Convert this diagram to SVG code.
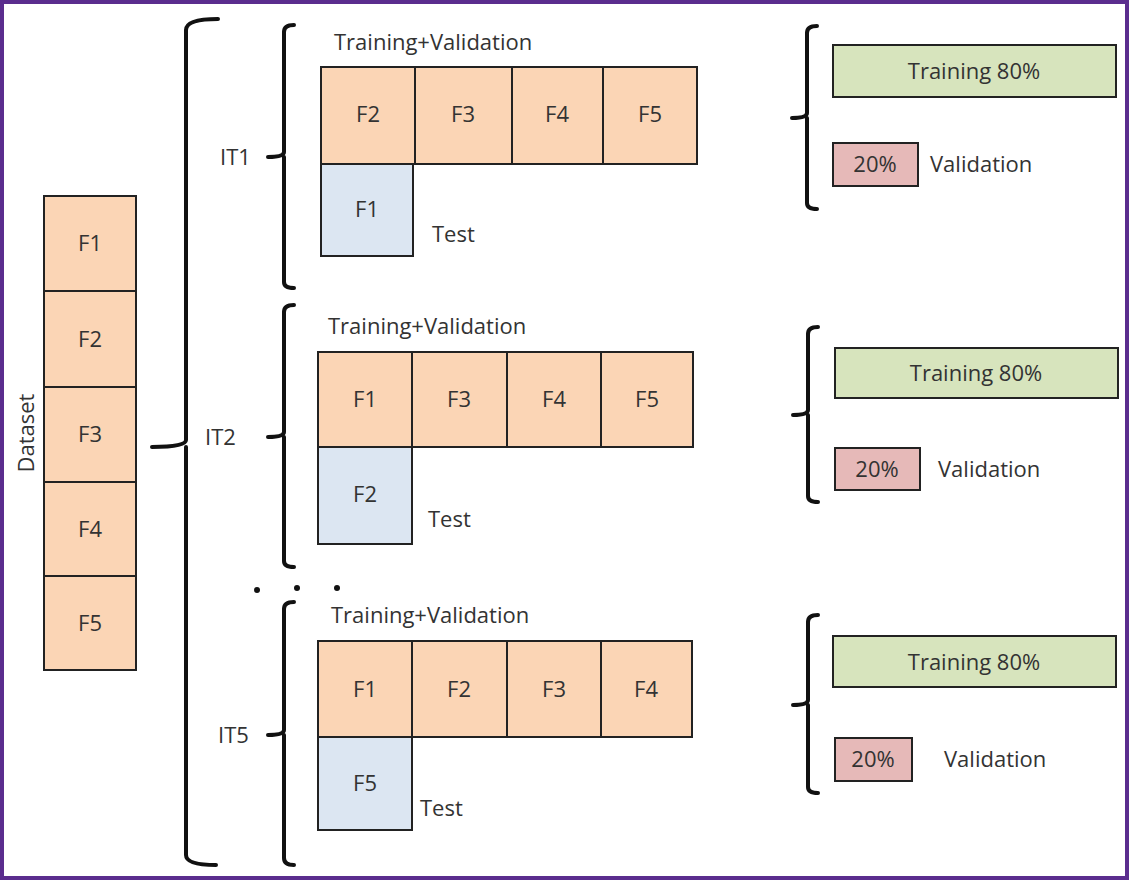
<svg xmlns="http://www.w3.org/2000/svg" width="1129" height="880" viewBox="0 0 1129 880">
<style>
text{font-family:"Open Sans","Liberation Sans",sans-serif;font-size:22px;fill:#333}
.c{text-anchor:middle}
.o{fill:#fbd5b5;stroke:#222;stroke-width:2}
.b{fill:#dce6f2;stroke:#222;stroke-width:2}
.g{fill:#d7e4bd;stroke:#222;stroke-width:2}
.p{fill:#e6b9b8;stroke:#222;stroke-width:2}
.br{fill:none;stroke:#111;stroke-width:4;stroke-linecap:round}
</style>
<rect x="2" y="2" width="1125" height="876" fill="#fff" stroke="#5b2d8e" stroke-width="4"/>
<g id="dataset">
<rect class="o" x="44" y="196" width="92" height="95"/><text class="c" x="90" y="251">F1</text>
<rect class="o" x="44" y="291" width="92" height="96"/><text class="c" x="90" y="347">F2</text>
<rect class="o" x="44" y="387" width="92" height="95"/><text class="c" x="90" y="442">F3</text>
<rect class="o" x="44" y="482" width="92" height="94"/><text class="c" x="90" y="537">F4</text>
<rect class="o" x="44" y="576" width="92" height="94"/><text class="c" x="90" y="631">F5</text>
<text class="c" transform="translate(34,433) rotate(-90)">Dataset</text>
</g>
<g id="connectors">
<path class="br" d="M218,19 Q186,19 186,30 V440 Q186,447 152,447 M186,447 V855 Q186,865 216,865"/>
<path class="br" d="M294,25 Q284,25 284,32 V152 Q284,157 268,157 M284,157 V282 Q284,288 294,288"/>
<path class="br" d="M294,305 Q284,305 284,312 V432 Q284,437 268,437 M284,437 V561 Q284,567 294,567"/>
<path class="br" d="M294,602 Q284,602 284,609 V730 Q284,735 268,735 M284,735 V858 Q284,865 294,865"/>
<path class="br" d="M817,26 Q807,26 807,33 V113 Q807,118 792,118 M807,118 V203 Q807,209 817,209"/>
<path class="br" d="M818,327 Q808,327 808,334 V410 Q808,415 793,415 M808,415 V496 Q808,502 818,502"/>
<path class="br" d="M818,615 Q808,615 808,622 V700 Q808,705 793,705 M808,705 V787 Q808,793 818,793"/>
</g>
<g id="it1">
<text x="220" y="165">IT1</text>
<text x="334" y="50">Training+Validation</text>
<rect class="o" x="321" y="67" width="94" height="97"/><text class="c" x="368" y="122">F2</text>
<rect class="o" x="415" y="67" width="97" height="97"/><text class="c" x="463" y="122">F3</text>
<rect class="o" x="512" y="67" width="91" height="97"/><text class="c" x="557" y="122">F4</text>
<rect class="o" x="603" y="67" width="94" height="97"/><text class="c" x="650" y="122">F5</text>
<rect class="b" x="321" y="164" width="92" height="92"/><text class="c" x="367" y="217">F1</text>
<text x="432" y="242">Test</text>
<rect class="g" x="833" y="45" width="283" height="52"/><text class="c" x="974" y="79">Training 80%</text>
<rect class="p" x="833" y="143" width="85" height="43"/><text class="c" x="875" y="172">20%</text>
<text x="930" y="172">Validation</text>
</g>
<g id="it2">
<text x="205" y="445">IT2</text>
<text x="328" y="334">Training+Validation</text>
<rect class="o" x="318" y="352" width="94" height="95"/><text class="c" x="365" y="407">F1</text>
<rect class="o" x="412" y="352" width="95" height="95"/><text class="c" x="459" y="407">F3</text>
<rect class="o" x="507" y="352" width="94" height="95"/><text class="c" x="554" y="407">F4</text>
<rect class="o" x="601" y="352" width="92" height="95"/><text class="c" x="647" y="407">F5</text>
<rect class="b" x="318" y="447" width="94" height="97"/><text class="c" x="365" y="502">F2</text>
<text x="428" y="527">Test</text>
<rect class="g" x="835" y="348" width="283" height="50"/><text class="c" x="976" y="381">Training 80%</text>
<rect class="p" x="835" y="448" width="85" height="42"/><text class="c" x="877" y="477">20%</text>
<text x="938" y="477">Validation</text>
</g>
<g id="dots" fill="#111"><circle cx="257" cy="590" r="3"/><circle cx="297" cy="588" r="3"/><circle cx="337" cy="588" r="3"/></g>
<g id="it5">
<text x="218" y="743">IT5</text>
<text x="331" y="623">Training+Validation</text>
<rect class="o" x="318" y="641" width="94" height="96"/><text class="c" x="365" y="697">F1</text>
<rect class="o" x="412" y="641" width="95" height="96"/><text class="c" x="459" y="697">F2</text>
<rect class="o" x="507" y="641" width="94" height="96"/><text class="c" x="554" y="697">F3</text>
<rect class="o" x="601" y="641" width="91" height="96"/><text class="c" x="646" y="697">F4</text>
<rect class="b" x="318" y="737" width="94" height="93"/><text class="c" x="365" y="791">F5</text>
<text x="420" y="816">Test</text>
<rect class="g" x="833" y="636" width="283" height="51"/><text class="c" x="974" y="670">Training 80%</text>
<rect class="p" x="835" y="738" width="77" height="43"/><text class="c" x="873" y="767">20%</text>
<text x="944" y="767">Validation</text>
</g>
</svg>
